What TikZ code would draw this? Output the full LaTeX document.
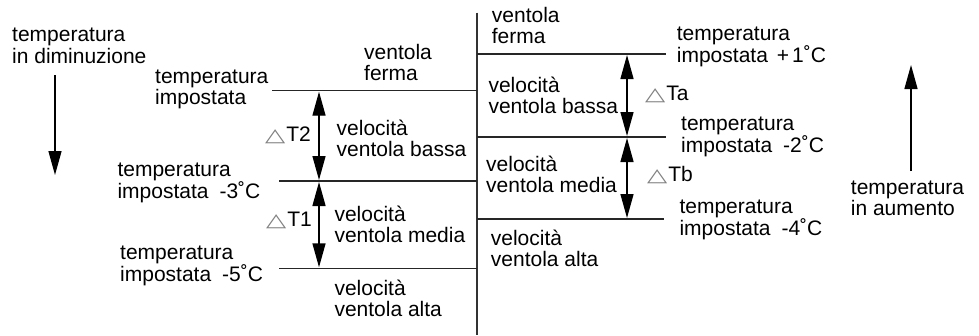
\documentclass[tikz,border=0pt]{standalone}
\usepackage{fontspec}
\setmainfont{Liberation Sans}
\newfontfamily\symfont{DejaVu Sans}
\usetikzlibrary{arrows.meta}
\newcommand{\twol}[2]{\vtop{\hbox{#1}\hbox{#2}}}
\newcommand{\dtri}{{\symfont\color{black!50}\scalebox{1.25}[0.88]{△}}\hspace{1pt}}
\newcommand{\degc}{˚C}
\begin{document}
\begin{tikzpicture}[x=1pt,y=-1pt,
  lbl/.style={anchor=base west,inner sep=0pt,font=\fontsize{21}{21}\selectfont},
  lblw/.style={lbl,font=\fontsize{21}{22.3}\selectfont},
  hline/.style={draw=black!85,line width=1.3pt},
  axis/.style={draw=black!80,line width=2pt},
  darr/.style={draw=black,line width=1.4pt,{Triangle[length=24pt,width=13pt]}-{Triangle[length=24pt,width=13pt]},shorten <=1pt,shorten >=1pt},
  bigarr/.style={draw=black,line width=1.4pt,-{Triangle[length=24pt,width=13pt]}}]
\useasboundingbox (0,0) rectangle (979,335);
% axis
\coordinate (axtop) at (477,12.7);
\coordinate (axbot) at (477,335);
\draw[axis] (axtop) -- (axbot);
% left-side lines
\coordinate (L0a) at (272,90.7);  \coordinate (L0b) at (477,90.7);
\coordinate (L1a) at (279,181);   \coordinate (L1b) at (477,181);
\coordinate (L2a) at (279,268.3); \coordinate (L2b) at (477,268.3);
\draw[hline] (L0a) -- (L0b);
\draw[hline] (L1a) -- (L1b);
\draw[hline] (L2a) -- (L2b);
% right-side lines
\coordinate (R0a) at (477,54);  \coordinate (R0b) at (666,54);
\coordinate (R1a) at (477,137); \coordinate (R1b) at (666,137);
\coordinate (R2a) at (477,219); \coordinate (R2b) at (664,219);
\draw[hline] (R0a) -- (R0b);
\draw[hline] (R1a) -- (R1b);
\draw[hline] (R2a) -- (R2b);
% double arrows
\coordinate (a0) at (319,90.7); \coordinate (a1) at (319,181); \coordinate (a2) at (319,268.3);
\draw[darr] (a0) -- (a1);
\draw[darr] (a1) -- (a2);
\coordinate (b0) at (627,54); \coordinate (b1) at (627,137); \coordinate (b2) at (627,219);
\draw[darr] (b0) -- (b1);
\draw[darr] (b1) -- (b2);
% big direction arrows
\coordinate (dS) at (55,75); \coordinate (dE) at (55,175);
\draw[bigarr] (dS) -- (dE);
\coordinate (uS) at (911,171); \coordinate (uE) at (911,65);
\draw[bigarr] (uS) -- (uE);
% texts left
\node[lblw] (tdim) at (12,41) {\twol{temperatura}{in diminuzione}};
\node[lbl] (lferma) at (364,59.3) {\twol{ventola}{ferma}};
\node[lbl] (limp0) at (155,83.3) {\twol{temperatura}{impostata}};
\node[lbl] (dT2) at (265,141.7) {\dtri T2};
\node[lbl] (lbassa) at (336.5,135) {\twol{velocità}{ventola bassa}};
\node[lbl] (limp3) at (117.3,176.7) {\twol{temperatura}{impostata\hspace{11pt}-3\degc}};
\node[lbl] (dT1) at (266,226) {\dtri T1};
\node[lbl] (lmedia) at (334.3,221.7) {\twol{velocità}{ventola media}};
\node[lbl] (limp5) at (120,259) {\twol{temperatura}{impostata\hspace{11pt}-5\degc}};
\node[lbl] (lalta) at (334.3,295) {\twol{velocità}{ventola alta}};
% texts right
\node[lbl] (rferma) at (491.7,22.7) {\twol{ventola}{ferma}};
\node[lbl] (rimp1) at (676.7,40) {\twol{temperatura}{impostata\hspace{9pt}+\hspace{3pt}1\degc}};
\node[lbl] (rbassa) at (488.3,92.7) {\twol{velocità}{ventola bassa}};
\node[lbl] (dTa) at (645,100.7) {\dtri Ta};
\node[lbl] (rimp2) at (681,130) {\twol{temperatura}{impostata\hspace{11pt}-2\degc}};
\node[lbl] (rmedia) at (486,171.7) {\twol{velocità}{ventola media}};
\node[lbl] (dTb) at (647,181.7) {\dtri Tb};
\node[lbl] (rimp4) at (679.3,213.3) {\twol{temperatura}{impostata\hspace{11pt}-4\degc}};
\node[lbl] (ralta) at (490.7,245) {\twol{velocità}{ventola alta}};
\node[lbl] (taum) at (850.7,194.3) {\twol{temperatura}{in aumento}};
\end{tikzpicture}
\end{document}
